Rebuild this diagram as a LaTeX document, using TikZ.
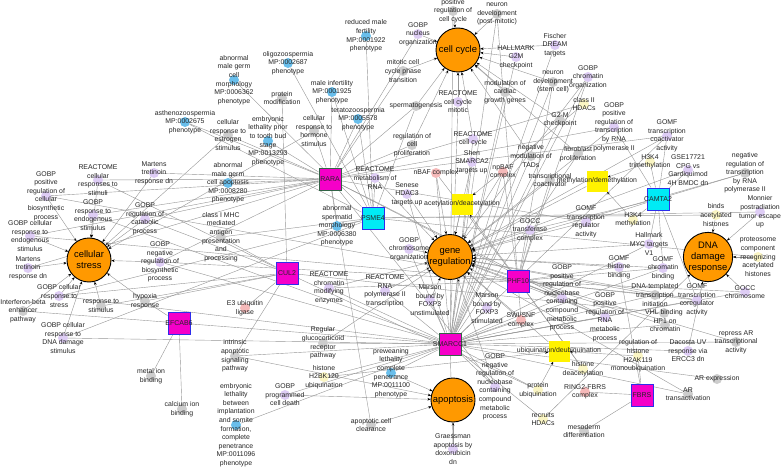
\documentclass[tikz,border=0pt]{standalone}
\usepackage{fontspec}
\setmainfont{Liberation Sans}
\usepackage{tikz}
\usetikzlibrary{arrows.meta,backgrounds}
\definecolor{hubor}{RGB}{255,153,0}
\definecolor{mag}{RGB}{245,0,200}
\definecolor{cyn}{RGB}{0,235,245}
\definecolor{gblue}{RGB}{45,45,235}
\definecolor{ggreen}{RGB}{50,100,70}
\definecolor{lav}{RGB}{222,205,245}
\definecolor{mp}{RGB}{105,190,235}
\definecolor{gry}{RGB}{205,205,205}
\definecolor{pnk}{RGB}{245,185,185}
\definecolor{ylw}{RGB}{250,245,195}
\definecolor{edgegray}{RGB}{150,150,150}

\begin{document}
\begin{tikzpicture}[x=1pt, y=-1pt,
  hub/.style={circle, draw=black, line width=0.9pt, fill=hubor, minimum size=44pt,
              inner sep=0pt, align=center, font=\fontsize{9.4}{11}\selectfont},
  gene/.style={rectangle, draw=gblue, line width=1pt, fill=#1, minimum size=22pt, inner sep=0pt},
  proc/.style={rectangle, fill=yellow, minimum size=21pt, inner sep=0pt},
  tm/.style={circle, fill=#1, minimum size=10pt, inner sep=0pt},
  lbl/.style={align=center, inner sep=0pt, text=black!85, font=\fontsize{6.9}{8.6}\selectfont},
  glbl/.style={inner sep=0pt, text=black!85, font=\fontsize{7}{8}\selectfont},
  link/.style={draw=edgegray, line width=0.4pt},
  rarr/.style={link, {Stealth[length=3.2pt, width=2.6pt, color=black]}-}
]
  \useasboundingbox (0,0) rectangle (784,468);

  \node[hub] (cc) at (458,50) {cell cycle};
  \node[hub] (cs) at (89,260) {cellular\\stress};
  \node[hub] (gr) at (450,257) {gene\\regulation};
  \node[hub] (dna) at (708,257) {DNA\\damage\\response};
  \node[hub] (apo) at (453,400) {apoptosis};

  \node[gene=mag, draw=ggreen, label={[glbl]center:RARA}] (rara) at (330,179) {};
  \node[gene=cyn, label={[glbl]center:PSME4}] (psme) at (373,218) {};
  \node[gene=mag, label={[glbl]center:CUL2}] (cul) at (287,273) {};
  \node[gene=mag, label={[glbl]center:PHF10}] (phf) at (518,281) {};
  \node[gene=cyn, label={[glbl]center:CAMTA2}] (camta) at (658,199) {};
  \node[gene=mag, label={[glbl]center:EFCAB6}] (efcab) at (179,323) {};
  \node[gene=mag, draw=ggreen, label={[glbl]center:SMARCC1}] (smarc) at (450,344) {};
  \node[gene=mag, label={[glbl]center:FBRS}] (fbrs) at (642,395) {};

  \node[proc, label={[lbl]center:acetylation/deacetylation}] (acet) at (462,204) {};
  \node[proc, label={[lbl]center:methylation/demethylation}] (methyl) at (597,181) {};
  \node[proc, label={[lbl]center:ubiquination/deubiquination}] (ubiq) at (559,351) {};

  \node[tm=gry, label={[lbl]center:{positive\\regulation of\\cell cycle}}] (pcc) at (453,11) {};
  \node[tm=gry, label={[lbl]center:{neuron\\development\\(post-mitotic)}}] (ndpm) at (497,14) {};
  \node[tm=lav, label={[lbl]center:{GOBP\\nucleus\\organization}}] (nucorg) at (418,34) {};
  \node[tm=gry, label={[lbl]center:{mitotic cell\\cycle phase\\transition}}] (mitot) at (403,71) {};
  \node[tm=lav, label={[lbl]center:{HALLMARK\\G2M\\checkpoint}}] (g2mh) at (516,57) {};
  \node[tm=lav, label={[lbl]center:{Fischer\\DREAM\\targets}}] (dream) at (555,45) {};
  \node[tm=gry, label={[lbl]center:{neuron\\development\\(stem cell)}}] (ndsc) at (553,82) {};
  \node[tm=gry, label={[lbl]center:{modulation of\\cardiac\\growth genes}}] (cardiac) at (505,92) {};
  \node[tm=lav, label={[lbl]center:{REACTOME\\cell cycle\\mitotic}}] (rccm) at (458,102) {};
  \node[tm=gry, label={[lbl]center:{spermatogenesis}}] (sperm) at (416,106) {};
  \node[tm=gry, label={[lbl]center:{regulation of\\cell\\proliferation}}] (prolif) at (412,145) {};
  \node[tm=gry, label={[lbl]center:{G2-M\\checkpoint}}] (g2m) at (560,120) {};
  \node[tm=lav, label={[lbl]center:{REACTOME\\cell cycle}}] (rcc) at (473,139) {};
  \node[tm=lav, label={[lbl]center:{Shen\\SMARCA2\\targets up}}] (shen) at (472,162) {};
  \node[tm=gry, label={[lbl]center:{negative\\modulation of\\TADs}}] (tads) at (531,156) {};
  \node[tm=gry, label={[lbl]center:{fibroblast\\proliferation}}] (fibro) at (578,154) {};
  \node[tm=ylw, label={[lbl]center:{class II\\HDACs}}] (hdac2) at (584,104) {};
  \node[tm=lav, label={[lbl]center:{GOBP\\chromatin\\organization}}] (chrorg) at (588,77) {};
  \node[tm=lav, label={[lbl]center:{GOBP\\positive\\regulation of\\transcription\\by RNA\\polymerase II}}] (ptrans) at (614,127) {};
  \node[tm=lav, label={[lbl]center:{GOMF\\transcription\\coactivator\\activity}}] (coact) at (667,136) {};
  \node[tm=ylw, label={[lbl]center:{H3K4\\trimethylation}}] (h3kthree) at (650,162) {};
  \node[tm=lav, label={[lbl]center:{GSE17721\\CPG vs\\Gardiquimod\\4H BMDC dn}}] (gse) at (688,170) {};
  \node[tm=gry, label={[lbl]center:{negative\\regulation of\\transcription\\by RNA\\polymerase II}}] (ntrans) at (745,173) {};
  \node[tm=lav, label={[lbl]center:{Monnier\\postradiation\\tumor escape\\up}}] (monnier) at (760,212) {};
  \node[tm=ylw, label={[lbl]center:{binds\\acetylated\\histones}}] (bindac) at (716,215) {};
  \node[tm=ylw, label={[lbl]center:{H3K4\\methylation}}] (h3kme) at (633,220) {};
  \node[tm=lav, label={[lbl]center:{Hallmark\\MYC targets\\V1}}] (myc) at (649,244) {};
  \node[tm=ylw, label={[lbl]center:{proteosome\\component\\recognizing\\acetylated\\histones}}] (proteo) at (758,257) {};
  \node[tm=lav, label={[lbl]center:{GOMF\\histone\\binding}}] (hisbind) at (619,267) {};
  \node[tm=lav, label={[lbl]center:{GOMF\\chromatin\\binding}}] (chrbind) at (663,268) {};
  \node[tm=gry, label={[lbl]center:{DNA-templated\\transcription\\initiation}}] (dnatx) at (655,295) {};
  \node[tm=lav, label={[lbl]center:{GOMF\\transcription\\coregulator\\activity}}] (coreg) at (697,300) {};
  \node[tm=lav, label={[lbl]center:{GOCC\\chromosome}}] (gocc) at (745,292) {};
  \node[tm=gry, label={[lbl]center:{VHL binding}}] (vhl) at (664,313) {};
  \node[tm=gry, label={[lbl]center:{HP1 on\\chromatin}}] (hpone) at (665,325) {};
  \node[tm=lav, label={[lbl]center:{GOBP\\positive\\regulation of\\RNA\\metabolic\\process}}] (prna) at (605,317) {};
  \node[tm=lav, label={[lbl]center:{GOBP\\positive\\regulation of\\nucleobase\\containing\\compound\\metabolic\\process}}] (pnuc) at (562,298) {};
  \node[tm=lav, label={[lbl]center:{GOMF\\transcription\\regulator\\activity}}] (txreg) at (586,222) {};
  \node[tm=lav, label={[lbl]center:{GOCC\\transferase\\complex}}] (transf) at (530,230) {};
  \node[tm=gry, label={[lbl]center:{transcriptional\\coactivator}}] (txcoact) at (550,180) {};
  \node[tm=pnk, label={[lbl]center:{npBAF\\complex}}] (npbaf) at (503,172) {};
  \node[tm=pnk, label={[lbl]center:{nBAF complex}}] (nbaf) at (436,173) {};
  \node[tm=lav, label={[lbl]center:{Senese\\HDAC3\\targets up}}] (senese) at (407,194) {};
  \node[tm=lav, label={[lbl]center:{REACTOME\\metabolism of\\RNA}}] (rmrna) at (375,178) {};
  \node[tm=mp, label={[lbl]center:{abnormal\\male germ\\cell\\morphology\\MP:0006362\\phenotype}}] (mgmorph) at (234,80) {};
  \node[tm=mp, label={[lbl]center:{oligozoospermia\\MP:0002687\\phenotype}}] (oligo) at (288,63) {};
  \node[tm=mp, label={[lbl]center:{reduced male\\fertility\\MP:0001922\\phenotype}}] (redfert) at (366,36) {};
  \node[tm=mp, label={[lbl]center:{male infertility\\MP:0001925\\phenotype}}] (maleinf) at (332,92) {};
  \node[tm=gry, label={[lbl]center:{protein\\modification}}] (protmod) at (282,98) {};
  \node[tm=mp, label={[lbl]center:{teratozoospermia\\MP:0005578\\phenotype}}] (terato) at (358,119) {};
  \node[tm=gry, label={[lbl]center:{cellular\\response to\\hormone\\stimulus}}] (hormone) at (314,131) {};
  \node[tm=gry, label={[lbl]center:{cellular\\response to\\estrogen\\stimulus}}] (estrogen) at (228,135) {};
  \node[tm=mp, label={[lbl]center:{embryonic\\lethality prior\\to tooth bud\\stage\\MP:0013293\\phenotype}}] (toothbud) at (268,141) {};
  \node[tm=mp, label={[lbl]center:{asthenozoospermia\\MP:0002675\\phenotype}}] (astheno) at (185,122) {};
  \node[tm=mp, label={[lbl]center:{abnormal\\male germ\\cell apoptosis\\MP:0008280\\phenotype}}] (mgapop) at (228,183) {};
  \node[tm=gry, label={[lbl]center:{class I MHC\\mediated\\antigen\\presentation\\and\\processing}}] (mhc) at (221,237) {};
  \node[tm=mp, label={[lbl]center:{abnormal\\spermatid\\morphology\\MP:0006380\\phenotype}}] (spmorph) at (337,226) {};
  \node[tm=lav, label={[lbl]center:{GOBP\\chromosome\\organization}}] (chromorg) at (409,249) {};
  \node[tm=lav, label={[lbl]center:{REACTOME\\chromatin\\modifying\\enzymes}}] (rchrom) at (329,288) {};
  \node[tm=lav, label={[lbl]center:{REACTOME\\RNA\\polymerase II\\transcription}}] (rpol) at (385,291) {};
  \node[tm=lav, label={[lbl]center:{Marson\\bound by\\FOXP3\\unstimulated}}] (marsonu) at (430,300) {};
  \node[tm=lav, label={[lbl]center:{Marson\\bound by\\FOXP3\\stimulated}}] (marsons) at (487,308) {};
  \node[tm=pnk, label={[lbl]center:{SWI/SNF\\complex}}] (swisnf) at (521,320) {};
  \node[tm=lav, label={[lbl]center:{GOBP\\negative\\regulation of\\nucleobase\\containing\\compound\\metabolic\\process}}] (nnuc) at (495,387) {};
  \node[tm=ylw, label={[lbl]center:{protein\\ubiquination}}] (protubq) at (538,390) {};
  \node[tm=ylw, label={[lbl]center:{recruits\\HDACs}}] (recruit) at (543,419) {};
  \node[tm=ylw, label={[lbl]center:{histone\\deacetylation}}] (hdeac) at (583,369) {};
  \node[tm=pnk, label={[lbl]center:{RING2-FBRS\\complex}}] (ringtwo) at (585,392) {};
  \node[tm=gry, label={[lbl]center:{mesoderm\\differentiation}}] (meso) at (584,431) {};
  \node[tm=ylw, label={[lbl]center:{regulation of\\histone\\H2AK119\\monoubiquination}}] (htwoak) at (638,356) {};
  \node[tm=lav, label={[lbl]center:{Dacosta UV\\response via\\ERCC3 dn}}] (dacosta) at (688,351) {};
  \node[tm=gry, label={[lbl]center:{repress AR\\transcriptional\\activity}}] (repress) at (736,342) {};
  \node[tm=gry, label={[lbl]center:{AR expression}}] (arexp) at (717,379) {};
  \node[tm=gry, label={[lbl]center:{AR\\transactivation}}] (artrans) at (688,394) {};
  \node[tm=gry, label={[lbl]center:{metal ion\\binding}}] (metal) at (151,376) {};
  \node[tm=gry, label={[lbl]center:{calcium ion\\binding}}] (calcium) at (182,409) {};
  \node[tm=lav, label={[lbl]center:{GOBP cellular\\response to\\DNA damage\\stimulus}}] (dnadmg) at (63,338) {};
  \node[tm=gry, label={[lbl]center:{Interferon-beta\\enhancer\\pathway}}] (ifnb) at (23,311) {};
  \node[tm=lav, label={[lbl]center:{GOBP cellular\\response to\\stress}}] (stress) at (59,296) {};
  \node[tm=gry, label={[lbl]center:{response to\\stimulus}}] (stim) at (101,306) {};
  \node[tm=gry, label={[lbl]center:{hypoxia\\response}}] (hypoxia) at (145,301) {};
  \node[tm=lav, label={[lbl]center:{GOBP\\negative\\regulation of\\biosynthetic\\process}}] (nbios) at (160,262) {};
  \node[tm=lav, label={[lbl]center:{GOBP\\regulation of\\catabolic\\process}}] (catab) at (145,219) {};
  \node[tm=lav, label={[lbl]center:{Martens\\tretinoin\\response dn}}] (martensa) at (154,173) {};
  \node[tm=lav, label={[lbl]center:{REACTOME\\cellular\\responses to\\stimuli}}] (rcresp) at (98,180) {};
  \node[tm=lav, label={[lbl]center:{GOBP\\positive\\regulation of\\cellular\\biosynthetic\\process}}] (pbios) at (46,196) {};
  \node[tm=lav, label={[lbl]center:{GOBP\\response to\\endogenous\\stimulus}}] (endo) at (93,215) {};
  \node[tm=lav, label={[lbl]center:{GOBP cellular\\response to\\endogenous\\stimulus}}] (cendo) at (30,236) {};
  \node[tm=lav, label={[lbl]center:{Martens\\tretinoin\\response dn}}] (martensb) at (28,268) {};
  \node[tm=pnk, label={[lbl]center:{E3 ubiquitin\\ligase}}] (ethree) at (245,308) {};
  \node[tm=gry, label={[lbl]center:{Regular\\glucocorticoid\\receptor\\pathway}}] (glucoc) at (323,343) {};
  \node[tm=gry, label={[lbl]center:{intrinsic\\apoptotic\\signaling\\pathway}}] (intrin) at (235,356) {};
  \node[tm=ylw, label={[lbl]center:{histone\\H2BK120\\ubiquination}}] (htwobk) at (324,377) {};
  \node[tm=lav, label={[lbl]center:{GOBP\\programmed\\cell death}}] (pcd) at (285,395) {};
  \node[tm=mp, label={[lbl]center:{embryonic\\lethality\\between\\implantation\\and somite\\formation,\\complete\\penetrance\\MP:0011096\\phenotype}}] (embimp) at (236,425) {};
  \node[tm=mp, label={[lbl]center:{preweaning\\lethality\\complete\\penetrance\\MP:0011100\\phenotype}}] (prewean) at (391,373) {};
  \node[tm=gry, label={[lbl]center:{apoptotic cell\\clearance}}] (apclear) at (371,425) {};
  \node[tm=lav, label={[lbl]center:{Graessman\\apoptosis by\\doxorubicin\\dn}}] (graess) at (453,449) {};

  \begin{scope}[on background layer]
    \fill[white] (0,0) rectangle (784,468);
    \draw[rarr] (cc) edge (pcc) edge (ndpm) edge (nucorg) edge (mitot) edge (g2mh) edge (dream)
      edge (ndsc) edge (cardiac) edge (rccm) edge (sperm) edge (prolif) edge (g2m) edge (rcc)
      edge (tads) edge (fibro);
    \draw[rarr] (cs) edge (rcresp) edge (pbios) edge (endo) edge (martensa) edge (catab) edge (cendo)
      edge (martensb) edge (nbios) edge (stress) edge (stim) edge (hypoxia) edge (dnadmg) edge (ifnb)
      edge (estrogen) edge (hormone);
    \draw[rarr] (gr) edge (chromorg) edge (rpol) edge (marsonu) edge (marsons) edge (transf) edge (txcoact)
      edge (txreg) edge (ptrans) edge (coact) edge (ntrans) edge (hisbind) edge (chrbind) edge (dnatx)
      edge (coreg) edge (prna) edge (pnuc) edge (nnuc) edge (acet) edge (methyl) edge (rmrna) edge (senese)
      edge (shen) edge (nbaf) edge (npbaf) edge (swisnf) edge (rchrom) edge (chrorg) edge (myc) edge (gse)
      edge (glucoc) edge (hpone) edge (artrans) edge (repress) edge (ubiq);
    \draw[rarr] (dna) edge (monnier) edge (proteo) edge (bindac) edge (gocc) edge (dacosta) edge (recruit);
    \draw[rarr] (apo) edge (prewean) edge (apclear) edge (pcd) edge (intrin) edge (graess);
    \draw[rarr] (acet) edge (hdac2) edge (hdeac);
    \draw[rarr] (methyl) edge (h3kthree) edge (h3kme);
    \draw[rarr] (ubiq) edge (protubq) edge (htwobk) edge (htwoak);

    \draw[link] (rara) edge (martensa) edge (martensb) edge (rcresp) edge (pbios) edge (endo) edge (cendo)
      edge (catab) edge (nbios) edge (estrogen) edge (hormone) edge (sperm) edge (prolif) edge (mgapop)
      edge (maleinf) edge (terato) edge (toothbud) edge (spmorph) edge (ptrans) edge (coact) edge (txreg)
      edge (prna) edge (pnuc) edge (nnuc) edge (astheno) edge (nucorg) edge (mitot) edge (hdac2) edge (apclear);
    \draw[link] (psme) edge (redfert) edge (maleinf) edge (oligo) edge (terato) edge (astheno) edge (mgmorph)
      edge (spmorph) edge (sperm) edge (mhc) edge (rmrna) edge (bindac) edge (proteo) edge (dnadmg)
      edge (stress) edge (monnier);
    \draw[link] (cul) edge (protmod) edge (ethree) edge (vhl) edge (hypoxia) edge (stim) edge (stress)
      edge (mhc) edge (protubq) edge (rcresp) edge (intrin) edge (catab);
    \draw[link] (phf) edge (nbaf) edge (npbaf) edge (swisnf) edge (ndpm) edge (ndsc) edge (chrorg)
      edge (rchrom) edge (hisbind) edge (chrbind) edge (pnuc) edge (prna) edge (transf) edge (txcoact)
      edge (dnatx) edge (coreg) edge (gocc) edge (pbios) edge (nbios) edge (cendo) edge (hdeac);
    \draw[link] (smarc) edge (ifnb) edge (nbaf) edge (npbaf) edge (swisnf) edge (ndpm) edge (ndsc)
      edge (chrorg) edge (chromorg) edge (rchrom) edge (rpol) edge (marsonu) edge (marsons) edge (pnuc)
      edge (nnuc) edge (prna) edge (chrbind) edge (coact) edge (coreg) edge (dnatx) edge (gocc)
      edge (glucoc) edge (artrans) edge (arexp) edge (repress) edge (dacosta) edge (g2mh) edge (dream)
      edge (myc) edge (cardiac) edge (tads) edge (fibro) edge (prewean) edge (embimp) edge (graess)
      edge (htwobk) edge (pcd) edge (intrin) edge (dnadmg) edge (nbios) edge (shen) edge (senese)
      edge (protubq) edge (hpone) edge (g2m) edge (rccm) edge (rcc) edge (pcc) edge (stress) edge (endo)
      edge (recruit);
    \draw[link] (camta) edge (coact) edge (ptrans) edge (h3kthree) edge (gse) edge (ntrans) edge (h3kme)
      edge (myc) edge (chrbind) edge (txreg) edge (transf) edge (coreg);
    \draw[link] (efcab) edge (metal) edge (calcium) edge (hypoxia);
    \draw[link] (fbrs) edge (ringtwo) edge (htwoak) edge (meso) edge (hisbind);
  \end{scope}
\end{tikzpicture}
\end{document}
